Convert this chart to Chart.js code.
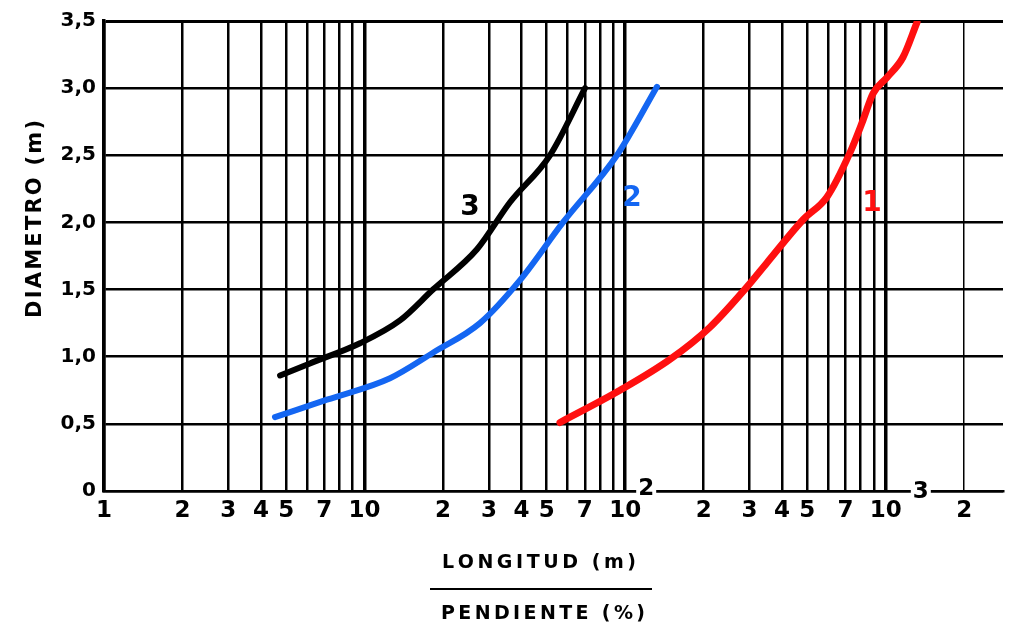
<!DOCTYPE html>
<html>
<head>
<meta charset="utf-8">
<script src="https://cdn.jsdelivr.net/npm/chart.js@4.4.0/dist/chart.umd.min.js"></script>
<style>
  html, body { margin: 0; padding: 0; background: #fff; }
  #wrap { width: 1011px; height: 628px; }
</style>
</head>
<body>
<div id="wrap"><canvas id="grafico" width="1011" height="628"></canvas></div>
<script>
// Eje X logarítmico (longitud / pendiente)
const xTickValues = [1, 2, 3, 4, 5, 6, 7, 8, 9, 10, 20, 30, 40, 50, 60, 70, 80, 90,
                     100, 200, 300, 400, 500, 600, 700, 800, 900, 1000, 2000];
const xTickLabels = ['1', '2', '3', '4', '5', '', '7', '', '', '10', '2', '3', '4', '5', '', '7', '', '',
                     '10', '2', '3', '4', '5', '', '7', '', '', '10', '2'];

// Eje Y (diámetro en m)
const yTickValues = [0, 0.5, 1.0, 1.5, 2.0, 2.5, 3.0, 3.5];
const yTickLabels = ['0', '0,5', '1,0', '1,5', '2,0', '2,5', '3,0', '3,5'];

// Curva 1 (roja)
const curva1X = [56.2, 95.5, 148.5, 211.5, 293.4, 350.1, 481.3, 594.9, 728.9, 817.3, 893.1, 1010.6, 1164.1, 1317.7];
const curva1Y = [0.51, 0.75, 0.98, 1.22, 1.52, 1.70, 2.02, 2.19, 2.52, 2.76, 2.96, 3.08, 3.23, 3.49];

// Curva 2 (azul)
const curva2X = [4.53, 7.17, 12.52, 18.3, 27.72, 39.48, 57.71, 93.0, 132.4];
const curva2Y = [0.55, 0.68, 0.84, 1.03, 1.25, 1.57, 2.00, 2.50, 3.01];

// Curva 3 (negra)
const curva3X = [4.74, 6.17, 9.6, 13.67, 18.3, 27.0, 36.14, 51.45, 70.11];
const curva3Y = [0.86, 0.95, 1.10, 1.27, 1.50, 1.80, 2.15, 2.50, 3.00];

const FUENTE = '"DejaVu Sans", "Liberation Sans", sans-serif';
const AZUL = '#1466f2';
const ROJO = '#ff1010';

function puntos(xs, ys) {
    return xs.map((x, i) => ({ x: x, y: ys[i] }));
}

function serie(xs, ys, color, ancho) {
    return {
        data: puntos(xs, ys),
        borderColor: color,
        backgroundColor: color,
        borderWidth: ancho,
        pointRadius: 0,
        showLine: true,
        cubicInterpolationMode: 'monotone',
        borderCapStyle: 'round',
        borderJoinStyle: 'round'
    };
}

// Texto con separación entre letras para ocupar un ancho dado
function textoEspaciado(ctx, texto, cx, cy, ancho) {
    const anchos = [...texto].map(c => ctx.measureText(c).width);
    const total = anchos.reduce((a, b) => a + b, 0);
    const hueco = (ancho - total) / (texto.length - 1);
    let x = cx - ancho / 2;
    ctx.textAlign = 'left';
    ctx.textBaseline = 'middle';
    [...texto].forEach((c, i) => {
        ctx.fillText(c, x, cy);
        x += anchos[i] + hueco;
    });
}

const rotulos = {
    id: 'rotulos',
    afterDraw(chart) {
        const { ctx, scales: { x, y } } = chart;
        ctx.save();

        // exponentes de 10² y 10³
        ctx.font = 'bold 23px ' + FUENTE;
        ctx.textAlign = 'center';
        ctx.textBaseline = 'middle';
        [[100, '2', 21, 489], [1000, '3', 35, 492]].forEach(([v, t, dx, py]) => {
            const px = x.getPixelForValue(v) + dx;
            ctx.fillStyle = '#fff';
            ctx.fillRect(px - 10, py - 11, 20, 22);
            ctx.fillStyle = '#000';
            ctx.fillText(t, px, py);
        });

        // número de cada curva
        ctx.font = 'bold 28px ' + FUENTE;
        [['3', 25.4, 2.11, '#000'], ['2', 106.2, 2.18, AZUL], ['1', 885, 2.14, ROJO]].forEach(([t, vx, vy, c]) => {
            ctx.fillStyle = c;
            ctx.fillText(t, x.getPixelForValue(vx), y.getPixelForValue(vy));
        });

        // título del eje X: longitud sobre pendiente
        ctx.fillStyle = '#000';
        ctx.font = 'bold 19px ' + FUENTE;
        textoEspaciado(ctx, 'LONGITUD (m)', 539, 563, 194);
        textoEspaciado(ctx, 'PENDIENTE (%)', 543, 614, 204);
        ctx.strokeStyle = '#000';
        ctx.lineWidth = 2;
        ctx.beginPath();
        ctx.moveTo(430, 589);
        ctx.lineTo(652, 589);
        ctx.stroke();

        // título del eje Y
        ctx.save();
        ctx.translate(36, 219);
        ctx.rotate(-Math.PI / 2);
        ctx.font = 'bold 21px ' + FUENTE;
        textoEspaciado(ctx, 'DIAMETRO (m)', 0, 0, 198);
        ctx.restore();

        ctx.restore();
    }
};

new Chart(document.getElementById('grafico'), {
    type: 'scatter',
    data: {
        datasets: [
            serie(curva3X, curva3Y, '#000', 6),
            serie(curva2X, curva2Y, AZUL, 6),
            serie(curva1X, curva1Y, ROJO, 7)
        ]
    },
    options: {
        responsive: false,
        animation: false,
        devicePixelRatio: 1,
        layout: { padding: { top: 21, right: 8, left: 0, bottom: 0 } },
        plugins: {
            legend: { display: false },
            tooltip: { enabled: false }
        },
        scales: {
            x: {
                type: 'logarithmic',
                min: 1,
                max: 2817,
                afterBuildTicks: s => { s.ticks = xTickValues.map(v => ({ value: v })); },
                afterFit: s => { s.height = 137; },
                border: { color: '#000', width: 2.5 },
                grid: {
                    color: '#000',
                    drawTicks: false,
                    lineWidth: c => {
                        const v = c.tick ? c.tick.value : 0;
                        if ([1, 10, 100, 1000].includes(v)) return 3.5;
                        if (v === 2000) return 1.5;
                        return 2.5;
                    }
                },
                ticks: {
                    autoSkip: false,
                    maxRotation: 0,
                    minRotation: 0,
                    padding: 6,
                    color: '#000',
                    font: { family: FUENTE, size: 23, weight: 'bold' },
                    callback: v => {
                        const i = xTickValues.indexOf(v);
                        return i >= 0 ? xTickLabels[i] : '';
                    }
                }
            },
            y: {
                min: 0,
                max: 3.5,
                afterBuildTicks: s => { s.ticks = yTickValues.map(v => ({ value: v })); },
                afterFit: s => { s.width = 104; },
                border: { color: '#000', width: 3.5 },
                grid: {
                    color: '#000',
                    drawTicks: false,
                    lineWidth: c => (c.tick && c.tick.value === 3.5) ? 3 : 2.5
                },
                ticks: {
                    padding: 8,
                    color: '#000',
                    font: { family: FUENTE, size: 20, weight: 'bold' },
                    callback: v => {
                        const i = yTickValues.indexOf(v);
                        return i >= 0 ? yTickLabels[i] : '';
                    }
                }
            }
        }
    },
    plugins: [rotulos]
});
</script>
</body>
</html>
